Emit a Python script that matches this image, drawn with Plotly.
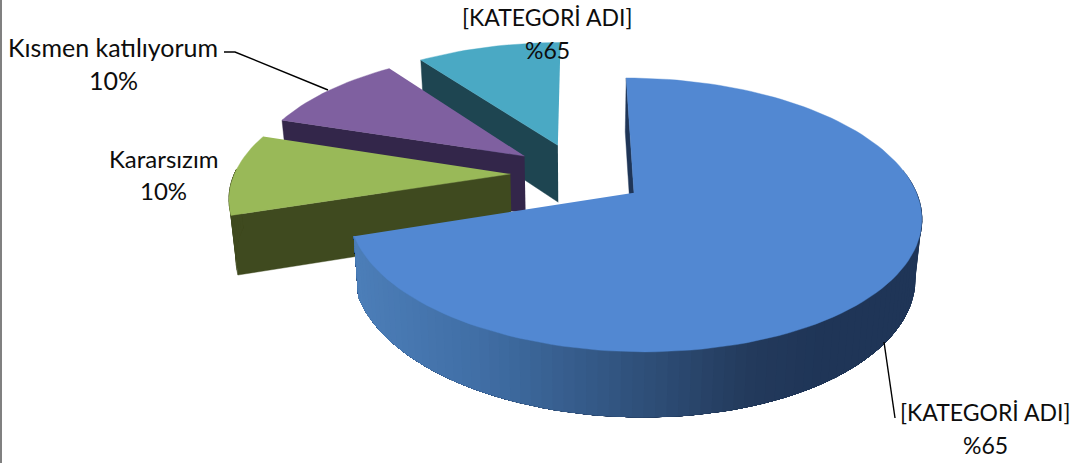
import math
import plotly.graph_objects as go

# ---- data ----
categories = ["[KATEGORİ ADI]", "Kararsızım", "Kısmen katılıyorum", "[KATEGORİ ADI]"]
values = [70, 10, 10, 10]
percent_labels = ["%65", "10%", "10%", "%65"]

# ---- styles ----
top_colors = ["#5288D2", "#99B958", "#7F60A0", "#4AA9C4"]
side_colors = ["#1F3557", "#3F4A1F", "#33264A", "#1E4551"]
rim_stops = [(355, (76, 126, 184)), (480, (64, 110, 165)), (640, (47, 80, 122)),
             (750, (35, 58, 92)), (820, (31, 53, 87)), (930, (31, 53, 87))]
label_pos = [(985, 412, 445), (163, 158, 190), (113, 47, 80), (547, 17, 50)]
label_sizes = [23, 24, 25, 23]
FONT = "Lato"

# ---- projection of the exploded disc onto the page ----
CX, CY, RX, AY, K, EXPLODE = 578.0, 174.0, 276.0, 127.4, 0.158, 0.245
DEPTH, DEPTH_GROW, DEPTH_SHRINK = 58.0, 0.04, 0.98


def top(u, v):
    s = 1.0 / (1.0 - K * v)
    return CX + RX * u * s, CY + AY * v * s


def bottom(u, v):
    x, y = top(u, v)
    return CX + (x - CX) * DEPTH_SHRINK, y + DEPTH + DEPTH_GROW * (y - CY)


def rim_color(x):
    for (x0, c0), (x1, c1) in zip(rim_stops, rim_stops[1:]):
        if x <= x1:
            t = max(0.0, (x - x0) / (x1 - x0))
            return "rgb(%d,%d,%d)" % tuple(round(a + (b - a) * t) for a, b in zip(c0, c1))
    return "rgb(%d,%d,%d)" % rim_stops[-1][1]


fig = go.Figure()


def poly(points, color):
    fig.add_trace(go.Scatter(x=[p[0] for p in points], y=[p[1] for p in points], mode="lines",
                             fill="toself", fillcolor=color, line=dict(color=color, width=0.4),
                             hoverinfo="skip", showlegend=False))


total = sum(values)
slices = []
start = 0.0
for i, val in enumerate(values):
    a0 = start
    a1 = start + 360.0 * val / total
    start = a1
    mid = math.radians((a0 + a1) / 2)
    u0, v0 = EXPLODE * math.sin(mid), -EXPLODE * math.cos(mid)
    n = max(12, round((a1 - a0) / 2))
    arc = []
    for j in range(n + 1):
        th = math.radians(a0 + (a1 - a0) * j / n)
        arc.append((u0 + math.sin(th), v0 - math.cos(th)))
    slices.append(dict(idx=i, apex=(u0, v0), arc=arc))

# far slices are painted first, the big front slice last
for sl in [slices[3], slices[2], slices[1], slices[0]]:
    i, apex, arc = sl["idx"], sl["apex"], sl["arc"]
    # visible radial wall
    edge = arc[0] if i == 0 else arc[0]
    poly([top(*apex), top(*edge), bottom(*edge), bottom(*apex)], side_colors[i])
    # outer rim: each step repaints everything still ahead of it, so no seams appear
    visible = [p for p in arc if p[1] > -0.05]
    for j in range(len(visible) - 1):
        rest = visible[j:]
        xm = (top(*rest[0])[0] + top(*rest[1])[0]) / 2
        color = rim_color(xm) if i == 0 else side_colors[i]
        poly([top(*p) for p in rest] + [bottom(*p) for p in reversed(rest)], color)
    # top surface
    poly([top(*apex)] + [top(*p) for p in arc], top_colors[i])

annotations = []
for name, pct, (x, y1, y2), size in zip(categories, percent_labels, label_pos, label_sizes):
    for txt, y in ((name, y1), (pct, y2)):
        annotations.append(dict(x=x, y=y, xref="x", yref="y", text=txt, showarrow=False,
                                xanchor="center", yanchor="middle",
                                font=dict(family=FONT, size=size, color="#0d0d0d")))

shapes = [
    dict(type="path", path="M224,52 L235,52 L328,90", line=dict(color="black", width=1.4)),
    dict(type="path", path="M884,342 L895,418", line=dict(color="black", width=1.4)),
    dict(type="rect", x0=0, x1=2, y0=0, y1=463, fillcolor="#808080", line=dict(width=0)),
]

fig.update_layout(
    width=1080, height=463, margin=dict(l=0, r=0, t=0, b=0),
    paper_bgcolor="white", plot_bgcolor="white",
    xaxis=dict(range=[0, 1080], visible=False, fixedrange=True),
    yaxis=dict(range=[463, 0], visible=False, fixedrange=True),
    annotations=annotations, shapes=shapes, showlegend=False,
)
fig.write_html("out.html", config={"displayModeBar": False},
               post_script="document.body.style.margin='0';document.body.style.overflow='hidden';")
